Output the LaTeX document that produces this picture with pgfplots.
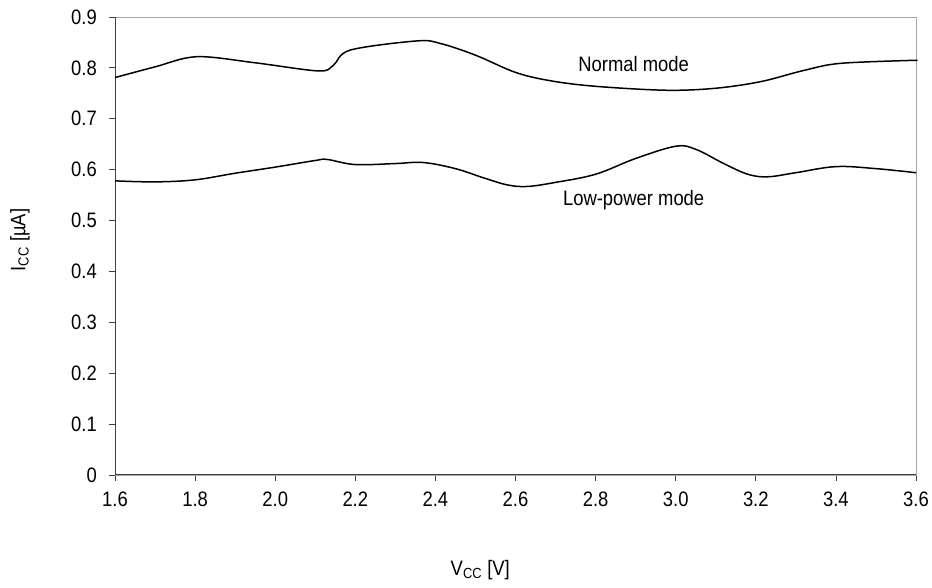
\documentclass[border=0pt]{standalone}
\usepackage{fontspec}
\setmainfont[FakeStretch=0.88]{Liberation Sans}
\usepackage{pgfplots}
\pgfplotsset{compat=1.18}
\begin{document}
\fontsize{21}{24}\selectfont
\begin{tikzpicture}
\begin{axis}[
  scale only axis,
  width=801bp, height=458bp,
  xmin=1.6, xmax=3.6, ymin=0, ymax=0.9,
  xtick={1.6,1.8,...,3.6},
  ytick={0,0.1,...,0.9},
  xticklabels={1.6,1.8,2.0,2.2,2.4,2.6,2.8,3.0,3.2,3.4,3.6},
  yticklabels={0,0.1,0.2,0.3,0.4,0.5,0.6,0.7,0.8,0.9},
  /pgf/number format/assume math mode=true,
  xtick pos=left, ytick pos=left,
  tick align=outside,
  major tick length=6bp,
  tick style={color=black!75, line width=0.8pt},
  axis line style={color=black!35, line width=0.9pt},
  ticklabel style={font=\fontsize{21}{24}\selectfont},
  xticklabel style={yshift=-4bp},
  yticklabel style={xshift=-5bp},
  clip=false,
]
\draw[black!75, line width=1pt] (rel axis cs:0,1) -- (rel axis cs:0,0) -- (rel axis cs:1,0);
\addplot[black, line width=1.5pt, smooth, tension=0.55] coordinates {
(1.6,0.781) (1.70,0.802) (1.804,0.822) (1.95,0.810) (2.108,0.794) (2.145,0.805) (2.1875,0.835)
(2.354,0.853) (2.4125,0.848) (2.5,0.825) (2.604,0.790) (2.70,0.773) (2.8125,0.763) (2.979,0.756)
(3.10,0.760) (3.2125,0.773) (3.32,0.795) (3.4125,0.809) (3.604,0.815)};
\addplot[black, line width=1.5pt, smooth, tension=0.6] coordinates {
(1.6,0.578) (1.7,0.576) (1.8,0.580) (1.9,0.593) (2.0,0.605) (2.1,0.618) (2.13,0.620)
(2.2,0.610) (2.3,0.612) (2.37,0.614) (2.45,0.602) (2.52,0.584) (2.58,0.570) (2.63,0.567)
(2.7,0.575) (2.8,0.591) (2.9,0.622) (3.0,0.646) (3.05,0.640) (3.12,0.612) (3.18,0.591)
(3.23,0.586) (3.3,0.594) (3.4,0.606) (3.5,0.602) (3.6,0.594)};
\node[anchor=center] at (axis cs:2.895,0.808) {Normal mode};
\node[anchor=center] at (axis cs:2.895,0.540) {Low-power mode};
\node[anchor=center] at ([yshift=-95bp]rel axis cs:0.456,0) {V\textsubscript{CC} [V]};
\node[anchor=center, rotate=90] at ([xshift=-95bp]rel axis cs:0,0.513) {I\textsubscript{CC} [µA]};
\end{axis}
\pgfresetboundingbox
\path[use as bounding box] ([shift={(-115bp,-113bp)}]current axis.south west) rectangle ([shift={(16bp,17bp)}]current axis.north east);
\end{tikzpicture}
\end{document}
